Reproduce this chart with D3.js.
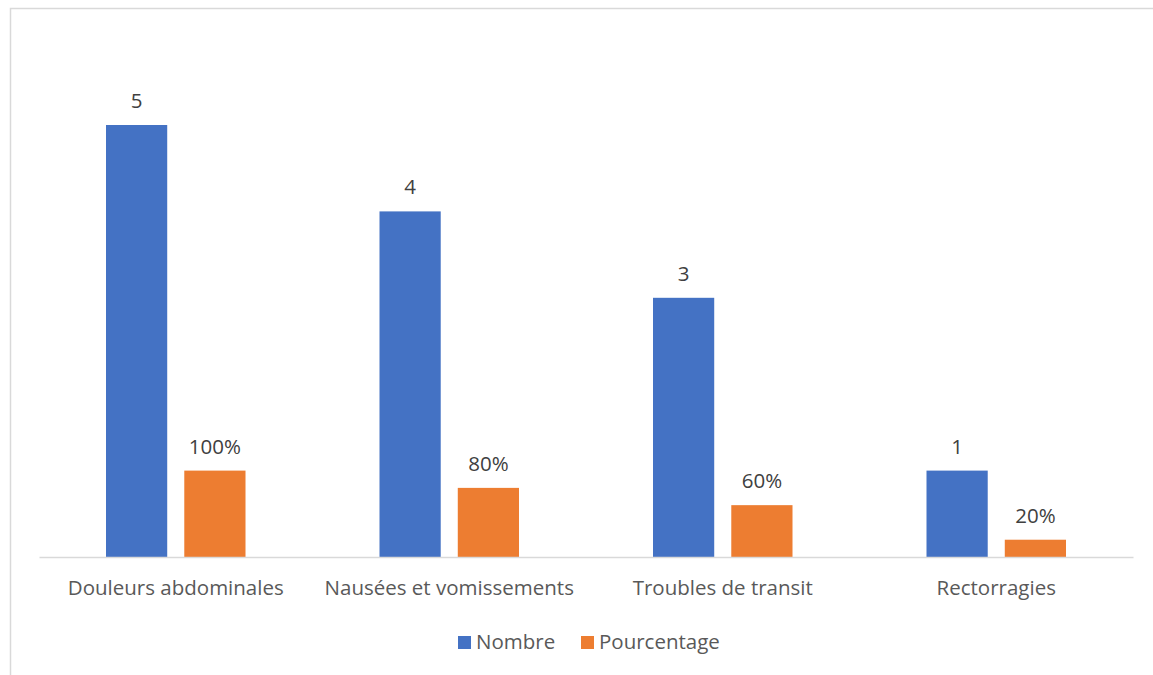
<!DOCTYPE html>
<html>
<head>
<meta charset="utf-8">
<script src="https://cdn.jsdelivr.net/npm/d3@7"></script>
<style>
  html, body { margin: 0; padding: 0; background: #fff; }
  svg { display: block; font-family: "Open Sans", "Lato", sans-serif; }
</style>
</head>
<body>
<svg id="chart" width="1153" height="675"></svg>
<script>
// Symptom categories and the two series
const categories = ["Douleurs abdominales", "Nausées et vomissements", "Troubles de transit", "Rectorragies"];
const nombre = [5, 4, 3, 1];
const pourcentage = [1.0, 0.8, 0.6, 0.2];
const seriesNames = ["Nombre", "Pourcentage"];
const seriesColors = ["#4472C4", "#ED7D31"];

const svg = d3.select("#chart");
const W = 1153, H = 675;
const FONT = 20.5;

// Chart area frame
svg.append("rect")
  .attr("x", 10.5).attr("y", 8.5)
  .attr("width", W + 10).attr("height", H + 10)
  .attr("fill", "#fff").attr("stroke", "#d9d9d9").attr("stroke-width", 1.5);

const plot = { left: 39, right: 1133, top: 38, bottom: 557 };

const x0 = d3.scaleBand().domain(categories).range([plot.left, plot.right]);
const groupPad = 67;
const x1 = d3.scaleBand().domain(seriesNames)
  .range([groupPad, x0.bandwidth() - groupPad]).paddingInner(0.218).paddingOuter(0);
const y = d3.scaleLinear().domain([0, 6]).range([plot.bottom, plot.bottom - 6 * 86.4]);

const rows = categories.map((c, i) => ({
  cat: c,
  vals: [
    { key: "Nombre", v: nombre[i], label: String(nombre[i]) },
    { key: "Pourcentage", v: pourcentage[i], label: Math.round(pourcentage[i] * 100) + "%" }
  ]
}));

const groups = svg.append("g").selectAll("g").data(rows).join("g")
  .attr("transform", d => `translate(${x0(d.cat)},0)`);

groups.selectAll("rect").data(d => d.vals).join("rect")
  .attr("x", d => x1(d.key))
  .attr("width", x1.bandwidth())
  .attr("y", d => y(d.v))
  .attr("height", d => y(0) - y(d.v))
  .attr("fill", (d, i) => seriesColors[i]);

groups.selectAll("text").data(d => d.vals).join("text")
  .attr("x", d => x1(d.key) + x1.bandwidth() / 2)
  .attr("y", d => y(d.v) - 17)
  .attr("text-anchor", "middle")
  .attr("font-size", FONT)
  .attr("fill", "#404040")
  .text(d => d.label);

// Category axis
const xAxis = svg.append("g").attr("transform", `translate(0,${plot.bottom})`)
  .call(d3.axisBottom(x0).tickSize(0).tickPadding(23));
xAxis.select(".domain").attr("stroke", "#d9d9d9").attr("stroke-width", 1.5);
xAxis.selectAll("text").attr("font-size", FONT).attr("fill", "#595959")
  .attr("font-family", "'Open Sans', Lato, sans-serif");

// Legend
const legend = svg.append("g");
const legendItems = [
  { name: seriesNames[0], color: seriesColors[0], x: 458 },
  { name: seriesNames[1], color: seriesColors[1], x: 581 }
];
legendItems.forEach(it => {
  legend.append("rect").attr("x", it.x).attr("y", 636).attr("width", 13).attr("height", 13).attr("fill", it.color);
  legend.append("text").attr("x", it.x + 18).attr("y", 649)
    .attr("font-size", FONT).attr("fill", "#595959").text(it.name);
});
</script>
</body>
</html>
